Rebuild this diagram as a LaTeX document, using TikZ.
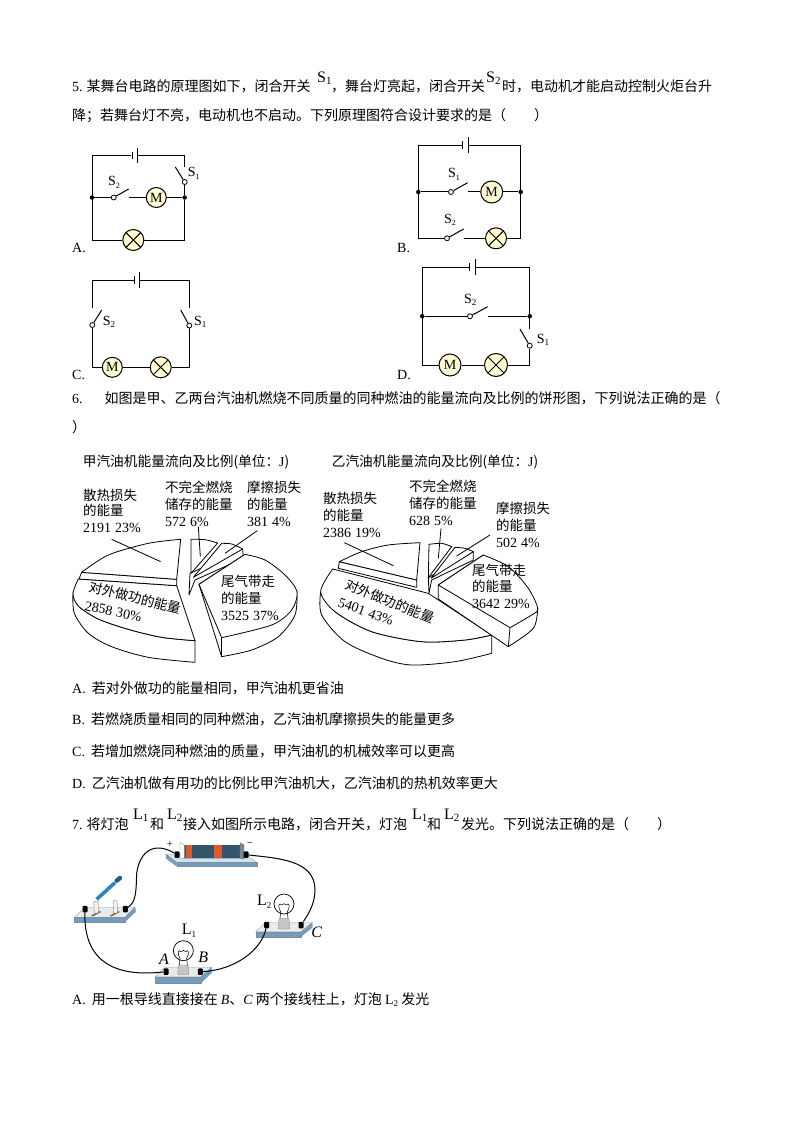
\documentclass[tikz,border=0pt]{standalone}
\usepackage{fontspec}
\setmainfont{Noto Sans CJK SC}
\newfontfamily\tm{Liberation Serif}
\newcommand{\sbs}[3][9]{{\tm #2\raisebox{-2.5pt}{\fontsize{#1}{#1}\selectfont #3}}}
\newcommand{\fsz}[1]{\fontsize{#1}{#1}\selectfont}
\newcommand{\upx}[2]{\raisebox{9.5pt}{\fsz{16}\tm #1\raisebox{-2pt}{\fsz{11}#2}}}
\definecolor{pale}{HTML}{FFFBD2}
\definecolor{basetop}{HTML}{E6EBEE}
\definecolor{basetopb}{HTML}{CFE3F0}
\definecolor{basefront}{HTML}{6E9EC4}
\definecolor{batt}{HTML}{33566C}
\definecolor{bandc}{HTML}{DE5B2C}
\definecolor{bladec}{HTML}{2C86C4}
\tikzset{
 txt/.style={anchor=base west,inner sep=0,font=\fsz{14}},
 lab/.style={anchor=base west,inner sep=0,font=\tm\fsz{14}},
 captxt/.style={anchor=center,inner sep=0,font=\fsz{13.7}},
 piet/.style={anchor=base west,inner sep=0,font=\fsz{13.5}},
 opt/.style={anchor=base west,inner sep=0,font=\tm\fsz{14}},
 wire/.style={line width=1pt,line join=miter},
 pl/.style={rectangle,fill=black,inner sep=0,minimum width=1pt},
 contact/.style={circle,draw,line width=0.8pt,fill=white,inner sep=0,minimum size=5pt},
 junct/.style={circle,fill=black,inner sep=0,minimum size=4.5pt},
 motor/.style={circle,draw,line width=1pt,fill=pale,inner sep=0,minimum size=20pt,font=\tm\fsz{14}},
 lamp/.style={circle,draw,line width=1pt,fill=pale,inner sep=0,minimum size=21pt,
   path picture={\draw[line width=1pt] ([shift={(-8,8)}]path picture bounding box.center)--([shift={(8,-8)}]path picture bounding box.center)
     ([shift={(-8,-8)}]path picture bounding box.center)--([shift={(8,8)}]path picture bounding box.center);}},
 pface/.style={draw,fill=white,line width=0.8pt,line join=round},
 pline/.style={line width=0.8pt},
 term/.style={rectangle,fill=black,inner sep=0,minimum width=5pt,minimum height=6.5pt,rounded corners=1pt},
 ewire/.style={line width=1pt},
 bulb/.style={circle,draw,line width=0.7pt,fill=white,inner sep=0,minimum size=20pt},
 btop/.style={fill=basetop,draw=black!40,line width=0.3pt},
 btopb/.style={fill=basetopb,draw=black!40,line width=0.3pt},
 bfront/.style={fill=basefront,draw=black!45,line width=0.3pt},
}
\begin{document}
\begin{tikzpicture}[x=1pt,y=-1pt]
\useasboundingbox[fill=white] (0,0) rectangle (794,1123);
% ---- text
\node[txt] (t1a) at (72,92) {{\tm 5.}\hspace{4pt}某舞台电路的原理图如下，闭合开关};
\node[txt] (t1b) at (317,92) {\upx{S}{1}};
\node[txt] (t1c) at (331,92) {，舞台灯亮起，闭合开关};
\node[txt] (t1d) at (486,92) {\upx{S}{2}};
\node[txt] (t1e) at (502,92) {时，电动机才能启动控制火炬台升};
\node[txt] (t2) at (72,121) {降；若舞台灯不亮，电动机也不启动。下列原理图符合设计要求的是（\hspace{28pt}）};
\node[opt] (la) at (72,252) {A.};
\node[opt] (lb) at (397,252) {B.};
\node[opt] (lc) at (72,379) {C.};
\node[opt] (ld) at (397,379) {D.};
\node[txt] (t6) at (72,403) {{\tm 6.}\hspace{22pt}如图是甲、乙两台汽油机燃烧不同质量的同种燃油的能量流向及比例的饼形图，下列说法正确的是（};
\node[txt] (t6b) at (72,432) {）};
\node[txt] (oa) at (72,693) {{\tm A.}\hspace{6pt}若对外做功的能量相同，甲汽油机更省油};
\node[txt] (ob) at (72,724) {{\tm B.}\hspace{6pt}若燃烧质量相同的同种燃油，乙汽油机摩擦损失的能量更多};
\node[txt] (oc) at (72,756) {{\tm C.}\hspace{6pt}若增加燃烧同种燃油的质量，甲汽油机的机械效率可以更高};
\node[txt] (od) at (72,788) {{\tm D.}\hspace{6pt}乙汽油机做有用功的比例比甲汽油机大，乙汽油机的热机效率更大};
\node[txt] (t7a) at (72,829) {{\tm 7.}\hspace{4pt}将灯泡};
\node[txt] (t7b) at (133,829) {\upx{L}{1}};
\node[txt] (t7c) at (150,829) {和};
\node[txt] (t7d) at (167,829) {\upx{L}{2}};
\node[txt] (t7e) at (183,829) {接入如图所示电路，闭合开关，灯泡};
\node[txt] (t7f) at (412,829) {\upx{L}{1}};
\node[txt] (t7g) at (427,829) {和};
\node[txt] (t7h) at (444,829) {\upx{L}{2}};
\node[txt] (t7i) at (461,829) {发光。下列说法正确的是（\hspace{28pt}）};
\node[txt] (last) at (72,1004) {{\tm A.}\hspace{6pt}用一根导线直接接在 {\tm\itshape B}、{\tm\itshape C} 两个接线柱上，灯泡 {\sbs[9]{L}{2}} 发光};
% ---- circuit A
\node[pl,minimum height=6.5pt] (ap1) at (132,155.7) {};
\node[pl,minimum height=15pt] (ap2) at (137,155.7) {};
\node[contact] (as1) at (184.7,182) {};
\coordinate (as1o) at (175.3,167);
\coordinate (as1t) at (184.7,167);
\node[contact] (as2) at (113.7,197.5) {};
\coordinate (as2o) at (128.7,189);
\coordinate (as2r) at (128.7,197.5);
\node[motor] (am) at (156.3,197.5) {M};
\node[lamp] (al) at (133.3,240) {};
\node[junct] (aj1) at (92,197.5) {};
\node[junct] (aj2) at (184.7,197.5) {};
\coordinate (atl) at (92,155.7); \coordinate (atr) at (184.7,155.7);
\coordinate (abl) at (92,240); \coordinate (abr) at (184.7,240);
\draw[wire] (ap1) -- (atl) -- (abl) -- (al);
\draw[wire] (ap2) -- (atr) -- (as1t);
\draw[wire] (as1) -- (as1o);
\draw[wire] (as1) -- (aj2) -- (abr) -- (al);
\draw[wire] (aj1) -- (as2);
\draw[wire] (as2) -- (as2o);
\draw[wire] (as2r) -- (am);
\draw[wire] (am) -- (aj2);
\node[lab] (as2t) at (108,186) {\sbs[8]{S}{2}};
\node[lab] (as1t2) at (187.7,177) {\sbs[8]{S}{1}};
% ---- circuit B
\node[pl,minimum height=8pt] (bp1) at (462.7,145.3) {};
\node[pl,minimum height=16pt] (bp2) at (468.3,145.3) {};
\node[contact] (bs1) at (451,192) {};
\coordinate (bs1o) at (467.7,182.7); \coordinate (bs1r) at (468.3,192);
\node[motor,minimum size=22pt] (bm) at (491.7,192) {M};
\node[contact] (bs2) at (447,238.3) {};
\coordinate (bs2o) at (463.7,229); \coordinate (bs2r) at (464,238.3);
\node[lamp] (bl) at (496,238.3) {};
\node[junct] (bj1) at (418.3,192) {};
\node[junct] (bj2) at (520.7,192) {};
\coordinate (btl) at (418.3,145.3); \coordinate (btr) at (520.7,145.3);
\coordinate (bbl) at (418.3,238.3); \coordinate (bbr) at (520.7,238.3);
\draw[wire] (bp1) -- (btl) -- (bbl) -- (bs2);
\draw[wire] (bp2) -- (btr) -- (bbr) -- (bl);
\draw[wire] (bj1) -- (bs1); \draw[wire] (bs1) -- (bs1o);
\draw[wire] (bs1r) -- (bm); \draw[wire] (bm) -- (bj2);
\draw[wire] (bs2) -- (bs2o); \draw[wire] (bs2r) -- (bl);
\node[lab] (bs1t) at (448,178) {\sbs[8]{S}{1}};
\node[lab] (bs2t) at (444,223) {\sbs[8]{S}{2}};
% ---- circuit C
\node[pl,minimum height=8pt] (cp1) at (134.3,280) {};
\node[pl,minimum height=16pt] (cp2) at (139.3,280) {};
\node[contact] (cs2) at (92.3,325) {};
\coordinate (cs2o) at (101.7,310); \coordinate (cs2t) at (92.3,308.3);
\node[contact] (cs1) at (189.3,325.5) {};
\coordinate (cs1o) at (180.7,310); \coordinate (cs1t) at (189.3,308.3);
\node[motor] (cm) at (112.3,367.3) {M};
\node[lamp] (cl) at (160.7,367.3) {};
\coordinate (ctl) at (92.3,280); \coordinate (ctr) at (189.3,280);
\coordinate (cbl) at (92.3,367.3); \coordinate (cbr) at (189.3,367.3);
\draw[wire] (cp1) -- (ctl) -- (cs2t);
\draw[wire] (cp2) -- (ctr) -- (cs1t);
\draw[wire] (cs2) -- (cs2o); \draw[wire] (cs1) -- (cs1o);
\draw[wire] (cs2) -- (cbl) -- (cm);
\draw[wire] (cm) -- (cl);
\draw[wire] (cl) -- (cbr) -- (cs1);
\node[lab] (cs2l) at (102.7,325) {\sbs[9]{S}{2}};
\node[lab] (cs1l) at (194,325) {\sbs[9]{S}{1}};
% ---- circuit D
\node[pl,minimum height=8pt] (dp1) at (469.3,267.3) {};
\node[pl,minimum height=16pt] (dp2) at (475,267.3) {};
\node[contact] (ds2) at (470,316.3) {};
\coordinate (ds2o) at (487.7,306.7); \coordinate (ds2r) at (488,316.3);
\node[contact] (ds1) at (529.7,345.7) {};
\coordinate (ds1o) at (520,329); \coordinate (ds1t) at (529.7,329);
\node[motor,minimum size=22pt] (dm) at (450,365) {M};
\node[lamp,minimum size=23pt] (dl) at (496,365) {};
\node[junct] (dj1) at (422.3,316.3) {};
\node[junct] (dj2) at (529.7,316.3) {};
\coordinate (dtl) at (422.3,267.3); \coordinate (dtr) at (529.7,267.3);
\coordinate (dbl) at (422.3,365); \coordinate (dbr) at (529.7,365);
\draw[wire] (dp1) -- (dtl) -- (dbl) -- (dm);
\draw[wire] (dp2) -- (dtr) -- (ds1t);
\draw[wire] (dj1) -- (ds2); \draw[wire] (ds2) -- (ds2o);
\draw[wire] (ds2r) -- (dj2);
\draw[wire] (ds1) -- (ds1o);
\draw[wire] (ds1) -- (dbr) -- (dl);
\draw[wire] (dm) -- (dl);
\node[lab] (ds2t) at (464,303) {\sbs[9]{S}{2}};
\node[lab] (ds1t2) at (536.7,343) {\sbs[9]{S}{1}};
% ---- pie 1
\begin{scope}[shift={(65,445)},x=0.33333pt,y=-0.33333pt]
\path[pface] (24,445) -- plot[smooth] coordinates {(24,445) (28,505) (70,565) (140,605) (250,637) (390,652)} -- (390,587) -- plot[smooth] coordinates {(390,587) (290,577) (190,553) (100,522) (40,483) (24,445)} -- cycle;
\path[pface] (40,402) -- (335,422) -- (390,587) -- plot[smooth] coordinates {(390,587) (290,577) (190,553) (100,522) (40,483) (24,445) (40,402)} -- cycle;
\path[pface] (50,382) -- (335,403) -- (335,422) -- (42,402) -- cycle;
\path[pface] (347,283) -- plot[smooth] coordinates {(347,283) (250,295) (130,330) (50,382)} -- (335,403) -- cycle;
\path[pface] (375,385) -- (372,450) -- (390,405) -- (535,340) -- (533,312) -- cycle;
\path[pface] (378,283) -- plot[smooth] coordinates {(378,283) (420,284) (458,294)} -- (378,385) -- cycle;
\path[pface] (470,295) -- plot[smooth] coordinates {(470,295) (500,297) (533,312)} -- (385,397) -- cycle;
\path[pface] (402,418) -- (470,635) -- plot[smooth] coordinates {(470,635) (560,615) (640,575) (690,510) (696,440)} -- (540,328) -- cycle;
\path[pface] (402,418) -- (540,328) -- plot[smooth] coordinates {(540,328) (600,345) (660,390) (696,440) (680,495) (620,540) (470,578)} -- cycle;
\draw[pline] (470,578) -- (470,635);
\coordinate (p1a) at (140,283); \coordinate (p1b) at (287,350);
\coordinate (p1c) at (400,245); \coordinate (p1d) at (406,335);
\coordinate (p1e) at (577,257); \coordinate (p1f) at (480,325);
\draw[pline] (p1a) -- (p1b);
\draw[pline] (p1c) -- (p1d);
\draw[pline] (p1e) -- (p1f);
\end{scope}
\node[captxt] (p1cap) at (186,462) {甲汽油机能量流向及比例(单位：{\tm J})};
\node[piet] (p1l1) at (83,500) {散热损失};
\node[piet] (p1l2) at (83,515) {的能量};
\node[lab] (p1l3) at (83,532) {2191\hspace{4pt}23\%};
\node[piet] (p1m1) at (165,492) {不完全燃烧};
\node[piet] (p1m2) at (165,509) {储存的能量};
\node[lab] (p1m3) at (165,526) {572\hspace{4pt}6\%};
\node[piet] (p1r1) at (247,492) {摩擦损失};
\node[piet] (p1r2) at (247,509) {的能量};
\node[lab] (p1r3) at (247,526) {381\hspace{4pt}4\%};
\node[piet] (p1t1) at (221,586) {尾气带走};
\node[piet] (p1t2) at (221,603) {的能量};
\node[lab] (p1t3) at (221,620) {3525\hspace{4pt}37\%};
\node[piet,rotate=-14] (p1w1) at (88,591) {对外做功的能量};
\node[lab,rotate=-12] (p1w2) at (84,610) {2858\hspace{4pt}30\%};
% ---- pie 2
\begin{scope}[shift={(305,445)},x=0.33333pt,y=-0.33333pt]
\path[pface] (47,440) -- plot[smooth] coordinates {(47,440) (50,510) (120,590) (230,640) (320,660) (450,650) (560,625)} -- (560,570) -- plot[smooth] coordinates {(560,570) (480,585) (350,590) (200,560) (90,500) (47,440)} -- cycle;
\path[pface] (83,372) -- (370,445) -- (560,570) -- plot[smooth] coordinates {(560,570) (480,585) (350,590) (200,560) (90,500) (47,440) (83,372)} -- cycle;
\path[pface] (103,350) -- (335,405) -- (335,427) -- (100,370) -- cycle;
\path[pface] (345,293) -- plot[smooth] coordinates {(345,293) (250,300) (170,320) (103,350)} -- (335,405) -- cycle;
\path[pface] (370,398) -- (372,445) -- (380,405) -- (505,345) -- (505,320) -- cycle;
\path[pface] (372,298) -- plot[smooth] coordinates {(372,298) (410,295) (440,305)} -- (370,398) -- cycle;
\path[pface] (450,307) -- plot[smooth] coordinates {(450,307) (480,310) (505,320)} -- (378,400) -- cycle;
\path[pface] (400,420) -- (400,462) -- (610,605) -- plot[smooth] coordinates {(610,605) (685,550) (698,490)} -- (535,330) -- cycle;
\path[pface] (400,420) -- (535,330) -- plot[smooth] coordinates {(535,330) (610,365) (670,430) (698,490) (680,510) (615,548)} -- cycle;
\draw[pline] (615,548) -- (610,605);
\coordinate (p2a) at (118,293); \coordinate (p2b) at (265,362);
\coordinate (p2c) at (408,250); \coordinate (p2d) at (400,340);
\coordinate (p2e) at (555,270); \coordinate (p2f) at (455,333);
\draw[pline] (p2a) -- (p2b);
\draw[pline] (p2c) -- (p2d);
\draw[pline] (p2e) -- (p2f);
\end{scope}
\node[captxt] (p2cap) at (435,462) {乙汽油机能量流向及比例(单位：{\tm J})};
\node[piet] (p2l1) at (323,503) {散热损失};
\node[piet] (p2l2) at (323,520) {的能量};
\node[lab] (p2l3) at (323,537) {2386\hspace{4pt}19\%};
\node[piet] (p2m1) at (409,491) {不完全燃烧};
\node[piet] (p2m2) at (409,508) {储存的能量};
\node[lab] (p2m3) at (409,525) {628\hspace{4pt}5\%};
\node[piet] (p2r1) at (496,513) {摩擦损失};
\node[piet] (p2r2) at (496,530) {的能量};
\node[lab] (p2r3) at (496,547) {502\hspace{4pt}4\%};
\node[piet] (p2t1) at (472,575) {尾气带走};
\node[piet] (p2t2) at (472,591) {的能量};
\node[lab] (p2t3) at (472,608) {3642\hspace{4pt}29\%};
\node[piet,rotate=-22] (p2w1) at (344,588) {对外做功的能量};
\node[lab,rotate=-20] (p2w2) at (337,606) {5401\hspace{4pt}43\%};
% ---- apparatus
\begin{scope}[shift={(65,830)},x=0.33333pt,y=-0.33333pt]
\path[btopb] (303,73) -- (540,73) -- (575,97) -- (335,97) -- cycle;
\path[bfront] (303,73) -- (335,97) -- (335,108) -- (303,85) -- cycle;
\path[bfront] (335,97) -- (575,97) -- (575,108) -- (335,108) -- cycle;
\path[fill=batt,rounded corners=1pt] (348,45) rectangle (530,85);
\path[fill=white,draw=black!50,line width=0.3pt] (345,38) -- (358,44) -- (358,86) -- (345,85) -- cycle;
\path[fill=batt!70,draw=black!50,line width=0.3pt] (525,38) -- (537,44) -- (537,88) -- (525,84) -- cycle;
\path[fill=bandc] (362,46) rectangle (382,84);
\path[fill=bandc] (447,46) rectangle (470,84);
\node[term] (batp) at (336,74) {};
\node[term] (batm) at (543,74) {};
\node[font=\tm\fsz{11},inner sep=0] (plusn) at (315,43) {+};
\node[font=\tm\fsz{11},inner sep=0] (minusn) at (555,43) {−};
% switch base
\path[btop] (60,232) -- (210,232) -- (180,262) -- (28,262) -- cycle;
\path[bfront] (28,262) -- (180,262) -- (180,275) -- (28,275) -- cycle;
\path[bfront] (180,262) -- (210,232) -- (212,245) -- (180,275) -- cycle;
\path[fill=brown!70!black] (78,257) -- (104,243) -- (108,246) -- (84,259) -- cycle;
\path[fill=brown!70!black] (134,257) -- (160,243) -- (164,246) -- (140,259) -- cycle;
\path[fill=white!90!gray,draw=black!60,line width=0.3pt] (86,215) -- (100,213) -- (100,249) -- (88,249) -- cycle;
\path[fill=white!90!gray,draw=black!60,line width=0.3pt] (144,212) -- (156,212) -- (158,249) -- (146,249) -- cycle;
\path[draw=bladec,line width=3.6pt] (95,208) -- (150,158);
\path[draw=bladec!70!black,line width=4.4pt,line cap=round] (155,152) -- (165,144);
\node[term] (swl) at (60,237) {};
\node[term] (swr) at (181,237) {};
% L1
\path[btop] (300,412) -- (440,412) -- (408,440) -- (270,440) -- cycle;
\path[bfront] (270,440) -- (408,440) -- (408,458) -- (270,458) -- cycle;
\path[bfront] (408,440) -- (440,412) -- (440,428) -- (408,458) -- cycle;
\node[bulb] (bu1) at (355,362) {};
\path[fill=gray!45,draw=gray,line width=0.3pt,rounded corners=1pt] (340,405) -- (370,405) -- (372,434) -- (338,434) -- cycle;
\draw[line width=0.5pt] (343,405) -- (345,385) .. controls (335,370) and (340,355) .. (348,365) .. controls (352,360) and (358,360) .. (362,365) .. controls (370,355) and (375,370) .. (365,385) -- (367,405);
\node[term] (l1a) at (303,425) {};
\node[term] (l1b) at (406,425) {};
% L2
\path[btop] (600,278) -- (742,278) -- (708,305) -- (572,305) -- cycle;
\path[bfront] (572,305) -- (708,305) -- (708,320) -- (572,320) -- cycle;
\path[bfront] (708,305) -- (742,278) -- (742,292) -- (708,320) -- cycle;
\node[bulb] (bu2) at (657,222) {};
\path[fill=gray!45,draw=gray,line width=0.3pt,rounded corners=1pt] (642,265) -- (672,265) -- (674,297) -- (640,297) -- cycle;
\draw[line width=0.5pt] (645,265) -- (647,245) .. controls (637,230) and (642,215) .. (650,225) .. controls (654,220) and (660,220) .. (664,225) .. controls (672,215) and (677,230) .. (667,245) -- (669,265);
\node[term] (l2a) at (605,285) {};
\node[term] (l2b) at (708,285) {};
% wires
\draw[ewire] (batp) .. controls (270,35) and (225,60) .. (215,130) .. controls (213,180) and (215,215) .. (swr);
\draw[ewire] (batm) .. controls (640,85) and (750,90) .. (750,180) .. controls (750,225) and (725,260) .. (l2b);
\draw[ewire] (l2a) .. controls (590,360) and (510,420) .. (l1b);
\draw[ewire] (l1a) .. controls (170,440) and (55,410) .. (swl);
% labels
\node[font=\tm\itshape\fsz{16},inner sep=0] (lA) at (297,388) {A};
\node[font=\tm\itshape\fsz{16},inner sep=0] (lB) at (415,382) {B};
\node[font=\tm\itshape\fsz{16},inner sep=0] (lC) at (755,308) {C};
\node[inner sep=0] (lL1) at (372,302) {\fsz{16}\sbs[9]{L}{1}};
\node[inner sep=0] (lL2) at (598,215) {\fsz{16}\sbs[9]{L}{2}};
\end{scope}
\end{tikzpicture}
\end{document}
